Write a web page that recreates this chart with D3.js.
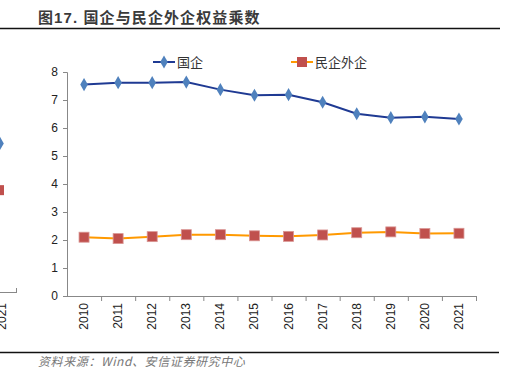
<!DOCTYPE html>
<html>
<head>
<meta charset="utf-8">
<script src="https://cdn.jsdelivr.net/npm/d3@7"></script>
<style>
  body { margin: 0; background: #fff; }
  svg text { font-family: Arial, "Liberation Sans", "Noto Sans CJK SC", sans-serif; }
</style>
</head>
<body>
<div id="chart"></div>
<script>
// data
var years = ["2010","2011","2012","2013","2014","2015","2016","2017","2018","2019","2020","2021"];
var soe = [7.55, 7.62, 7.62, 7.64, 7.37, 7.17, 7.19, 6.92, 6.51, 6.37, 6.40, 6.32];
var privateForeign = [2.10, 2.05, 2.12, 2.19, 2.19, 2.15, 2.13, 2.18, 2.26, 2.29, 2.23, 2.24];
var yTicks = [0, 1, 2, 3, 4, 5, 6, 7, 8];
var seriesNames = ["国企", "民企外企"];
// clipped remains of the neighbouring chart on the left
var neighbourLast = [5.45, 3.78];

var svg = d3.select("#chart").append("svg")
    .attr("width", 507)
    .attr("height", 387);

var x = d3.scaleBand().domain(years).range([67, 476]);
var y = d3.scaleLinear().domain([0, 8]).range([296, 72]);

// title + rules
svg.append("text")
    .attr("x", 38).attr("y", 23)
    .attr("font-size", 15).attr("font-weight", "bold")
    .attr("letter-spacing", 1.1)
    .attr("fill", "#3a3a3a")
    .text("图17. 国企与民企外企权益乘数");
svg.append("line").attr("x1", 0).attr("x2", 500).attr("y1", 28.5).attr("y2", 28.5)
    .attr("stroke", "#111").attr("stroke-width", 1.5);
svg.append("line").attr("x1", 0).attr("x2", 499).attr("y1", 352.5).attr("y2", 352.5)
    .attr("stroke", "#111").attr("stroke-width", 1.5);
svg.append("text")
    .attr("x", 38).attr("y", 366)
    .attr("font-size", 12).attr("font-style", "italic")
    .attr("letter-spacing", 0.6)
    .attr("fill", "#777")
    .style("font-family", "'Noto Sans CJK SC', sans-serif")
    .text("资料来源：Wind、安信证券研究中心");

// y axis
var yAxis = svg.append("g")
    .attr("transform", "translate(67,0)")
    .call(d3.axisLeft(y).tickValues(yTicks).tickSize(4).tickFormat(d3.format("d")));
yAxis.select(".domain").attr("stroke", "#888");
yAxis.selectAll(".tick line").attr("stroke", "#888");
yAxis.selectAll(".tick text").attr("font-size", 12).attr("fill", "#222")
    .attr("x", -9).style("font-family", "Arial, 'Liberation Sans', sans-serif");

// x axis: ticks between categories
var xAxis = svg.append("g").attr("transform", "translate(0,296)");
xAxis.append("line").attr("x1", 67).attr("x2", 476).attr("y1", 0.5).attr("y2", 0.5)
    .attr("stroke", "#888");
var bounds = years.map(function(d){ return x(d); }).concat([x.range()[1]]);
xAxis.selectAll("line.tk").data(bounds.slice(1)).enter().append("line")
    .attr("class", "tk")
    .attr("x1", function(d){ return d + 0.5; }).attr("x2", function(d){ return d + 0.5; })
    .attr("y1", 0).attr("y2", 5)
    .attr("stroke", "#888");
xAxis.selectAll("text").data(years).enter().append("text")
    .attr("transform", function(d){
        return "translate(" + (x(d) + x.bandwidth()/2 + 4) + ",7) rotate(-90)";
    })
    .attr("text-anchor", "end")
    .attr("font-size", 12).attr("fill", "#222")
    .text(function(d){ return d; });

function cx(d, i){ return x(years[i]) + x.bandwidth()/2; }

var line = d3.line()
    .x(function(d, i){ return cx(d, i); })
    .y(function(d){ return y(d); });

// 民企外企
svg.append("path").datum(privateForeign)
    .attr("d", line).attr("fill", "none")
    .attr("stroke", "#ff9900").attr("stroke-width", 2);
svg.selectAll("rect.pf").data(privateForeign).enter().append("rect")
    .attr("class", "pf")
    .attr("x", function(d, i){ return cx(d, i) - 5; })
    .attr("y", function(d){ return y(d) - 5; })
    .attr("width", 10).attr("height", 10)
    .attr("fill", "#c0504d").attr("stroke", "#d99694").attr("stroke-width", 0.8);

// 国企
svg.append("path").datum(soe)
    .attr("d", line).attr("fill", "none")
    .attr("stroke", "#1f3a93").attr("stroke-width", 2);
var diamond = d3.symbol().type(d3.symbolDiamond).size(50);
svg.selectAll("path.soe").data(soe).enter().append("path")
    .attr("class", "soe")
    .attr("d", diamond)
    .attr("transform", function(d, i){ return "translate(" + cx(d, i) + "," + y(d) + ")"; })
    .attr("fill", "#4f81bd");

// legend
var legend = svg.append("g");
legend.append("line").attr("x1", 153).attr("x2", 175).attr("y1", 62).attr("y2", 62)
    .attr("stroke", "#1f3a93").attr("stroke-width", 2);
legend.append("path").attr("d", diamond).attr("transform", "translate(164,62)")
    .attr("fill", "#4f81bd");
legend.append("text").attr("x", 177).attr("y", 66.5).attr("font-size", 13)
    .attr("fill", "#333").text(seriesNames[0]);
legend.append("line").attr("x1", 291).attr("x2", 313).attr("y1", 62).attr("y2", 62)
    .attr("stroke", "#ff9900").attr("stroke-width", 2);
legend.append("rect").attr("x", 297).attr("y", 57).attr("width", 10).attr("height", 10)
    .attr("fill", "#c0504d");
legend.append("text").attr("x", 315).attr("y", 66.5).attr("font-size", 13)
    .attr("fill", "#333").text(seriesNames[1]);

// cut-off neighbour chart at the left edge
var nb = svg.append("g");
nb.append("path").attr("d", diamond)
    .attr("transform", "translate(0," + y(neighbourLast[0]) + ")").attr("fill", "#4f81bd");
nb.append("rect").attr("x", -6).attr("y", y(neighbourLast[1]) - 5)
    .attr("width", 10).attr("height", 10).attr("fill", "#c0504d");
nb.append("line").attr("x1", 0).attr("x2", 16).attr("y1", 292.5).attr("y2", 292.5).attr("stroke", "#888");
nb.append("line").attr("x1", 16.5).attr("x2", 16.5).attr("y1", 288).attr("y2", 293).attr("stroke", "#888");
nb.append("text").attr("transform", "translate(6,303) rotate(-90)")
    .attr("text-anchor", "end")
    .attr("font-size", 12).attr("fill", "#222").text(years[years.length - 1]);
</script>
</body>
</html>
